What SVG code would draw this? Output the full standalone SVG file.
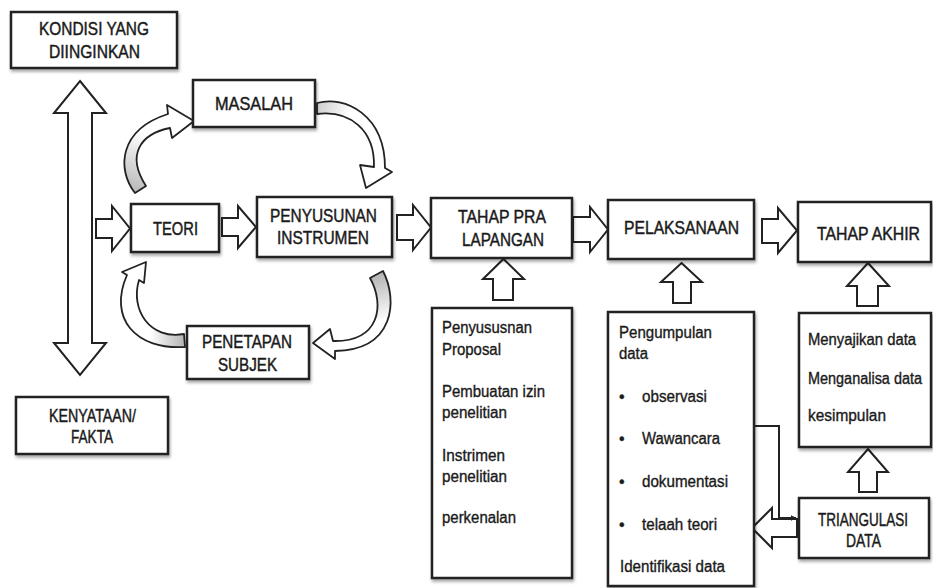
<svg xmlns="http://www.w3.org/2000/svg" width="933" height="588" viewBox="0 0 933 588">
<style>
.box{fill:#fff;stroke:#222;stroke-width:2.5;filter:url(#sh)}
.lbl{font-family:"Liberation Sans",Arial,sans-serif;font-size:18px;fill:#1a1a1a;stroke:#1a1a1a;stroke-width:0.45}
.txt{font-family:"Liberation Sans",Arial,sans-serif;font-size:16px;fill:#1a1a1a;stroke:#1a1a1a;stroke-width:0.35}
.blk{fill:#fff;stroke:#222;stroke-width:2;stroke-linejoin:miter}
.crv{stroke:#222;stroke-width:1.8;stroke-linejoin:round}
.ln{fill:none;stroke:#222;stroke-width:2}
</style>
<defs>
<filter id="sh" x="-10%" y="-10%" width="130%" height="140%">
<feDropShadow dx="1" dy="2.5" stdDeviation="1.8" flood-color="#000" flood-opacity="0.35"/>
</filter>
<linearGradient id="g1" gradientUnits="userSpaceOnUse" x1="140" y1="190" x2="160" y2="140"><stop offset="0" stop-color="#bdbdbd"/><stop offset="1" stop-color="#fff"/></linearGradient>
<linearGradient id="g2" gradientUnits="userSpaceOnUse" x1="317" y1="108" x2="350" y2="115"><stop offset="0" stop-color="#d0d0d0"/><stop offset="1" stop-color="#fff"/></linearGradient>
<linearGradient id="g3" gradientUnits="userSpaceOnUse" x1="376" y1="275" x2="388" y2="320"><stop offset="0" stop-color="#b5b5b5"/><stop offset="1" stop-color="#fff"/></linearGradient>
<linearGradient id="g4" gradientUnits="userSpaceOnUse" x1="184" y1="340" x2="150" y2="340"><stop offset="0" stop-color="#b5b5b5"/><stop offset="1" stop-color="#fff"/></linearGradient>
<marker id="ah" viewBox="0 0 10 10" refX="9" refY="5" markerWidth="6" markerHeight="6" orient="auto" markerUnits="userSpaceOnUse"><path d="M0,0 L10,5 L0,10 Z" fill="#222"/></marker>
</defs>
<rect width="933" height="588" fill="#fff"/>

<g id="connectors">
<polygon class="blk" points="80,81 106,113 92,113 92,343 106,343 80,375 54,343 68,343 68,113 54,113"/>
<polygon class="blk" points="96,219 112,219 112,206 130,228.5 112,251 112,238 96,238"/>
<polygon class="blk" points="222,218 238,218 238,206 256,227 238,248 238,236 222,236"/>
<polygon class="blk" points="397,215 413,215 413,205 431,227.5 413,250 413,240 397,240"/>
<polygon class="blk" points="573,217 590,217 590,207 608,229.5 590,252 590,242 573,242"/>
<polygon class="blk" points="762,219 778,219 778,208 797,230.5 778,253 778,243 762,243"/>
<polygon class="blk" points="503.5,259 524,279 513,279 513,300 493,300 493,279 483,279"/>
<polygon class="blk" points="681.5,263 702,282 691,282 691,303 673,303 673,282 661,282"/>
<polygon class="blk" points="868,263 889,286 878,286 878,306 857,306 857,286 847,286"/>
<polygon class="blk" points="868,449 888,472 877,472 877,492 859,492 859,472 848,472"/>
<polygon class="blk" points="752,528 772,508 772,519 797,519 797,537 772,537 772,548"/>
<path class="crv" fill="url(#g1)" d="M135,193 C117,170 118,130 168,114 L167,105 L194,121 L172,138 L170,128 C140,134 126,155 146,186 Z"/>
<path class="crv" fill="url(#g2)" d="M317,103 C345,95 385,115 385,168 L392,172 L366,188 L360,165 L374,167 C375,130 350,110 317,114 Z"/>
<path class="crv" fill="url(#g3)" d="M383,271 C398,300 395,350 335,351 L335,359 L313,343 L330,329 L333,341 C380,342 385,305 370,278 Z"/>
<path class="crv" fill="url(#g4)" d="M185,347 C135,350 108,318 127,275 L122,272 L146,262 L144,283 L139,280 C130,310 150,340 184,334 Z"/>
<path class="ln" d="M725,377 Q737,377 737,383 L737,491 Q737,497 725,497"/>
<path class="ln" d="M737,426 H779 V518 H796" marker-end="url(#ah)"/>
</g>

<g id="kondisi">
<rect class="box" x="11" y="12" width="166" height="56"/>
<text class="lbl" x="39" y="35" textLength="110" lengthAdjust="spacingAndGlyphs">KONDISI YANG</text>
<text class="lbl" x="49" y="58" textLength="91" lengthAdjust="spacingAndGlyphs">DIINGINKAN</text>
</g>
<g id="masalah">
<rect class="box" x="193" y="80" width="122" height="47"/>
<text class="lbl" x="215" y="110" textLength="78" lengthAdjust="spacingAndGlyphs">MASALAH</text>
</g>
<g id="teori">
<rect class="box" x="131" y="204" width="88" height="48"/>
<text class="lbl" x="153" y="235" textLength="45" lengthAdjust="spacingAndGlyphs">TEORI</text>
</g>
<g id="penyusunan">
<rect class="box" x="257" y="197" width="135" height="60"/>
<text class="lbl" x="270" y="222" textLength="107" lengthAdjust="spacingAndGlyphs">PENYUSUNAN</text>
<text class="lbl" x="277" y="244" textLength="92" lengthAdjust="spacingAndGlyphs">INSTRUMEN</text>
</g>
<g id="penetapan">
<rect class="box" x="187" y="326" width="122" height="53"/>
<text class="lbl" x="202" y="348" textLength="90" lengthAdjust="spacingAndGlyphs">PENETAPAN</text>
<text class="lbl" x="218" y="371" textLength="59" lengthAdjust="spacingAndGlyphs">SUBJEK</text>
</g>
<g id="kenyataan">
<rect class="box" x="16" y="397" width="152" height="57"/>
<text class="lbl" x="49" y="422" textLength="87" lengthAdjust="spacingAndGlyphs">KENYATAAN/</text>
<text class="lbl" x="71" y="443" textLength="42" lengthAdjust="spacingAndGlyphs">FAKTA</text>
</g>
<g id="tahap-pra">
<rect class="box" x="431" y="198" width="141" height="60"/>
<text class="lbl" x="458" y="223" textLength="88" lengthAdjust="spacingAndGlyphs">TAHAP PRA</text>
<text class="lbl" x="462" y="246" textLength="82" lengthAdjust="spacingAndGlyphs">LAPANGAN</text>
</g>
<g id="pelaksanaan">
<rect class="box" x="608" y="200" width="146" height="59"/>
<text class="lbl" x="624" y="234" textLength="115" lengthAdjust="spacingAndGlyphs">PELAKSANAAN</text>
</g>
<g id="tahap-akhir">
<rect class="box" x="798" y="202" width="133" height="60"/>
<text class="lbl" x="817" y="240" textLength="103" lengthAdjust="spacingAndGlyphs">TAHAP AKHIR</text>
</g>
<g id="pra-detail">
<rect class="box" x="432" y="308" width="140" height="270"/>
<text class="txt" x="442" y="333" textLength="90" lengthAdjust="spacingAndGlyphs">Penyususnan</text>
<text class="txt" x="442" y="355" textLength="59" lengthAdjust="spacingAndGlyphs">Proposal</text>
<text class="txt" x="442" y="397" textLength="103" lengthAdjust="spacingAndGlyphs">Pembuatan izin</text>
<text class="txt" x="442" y="418" textLength="65" lengthAdjust="spacingAndGlyphs">penelitian</text>
<text class="txt" x="442" y="461" textLength="63" lengthAdjust="spacingAndGlyphs">Instrimen</text>
<text class="txt" x="442" y="482" textLength="65" lengthAdjust="spacingAndGlyphs">penelitian</text>
<text class="txt" x="442" y="523" textLength="74" lengthAdjust="spacingAndGlyphs">perkenalan</text>
</g>
<g id="pelaksanaan-detail">
<rect class="box" x="608" y="312" width="146" height="274"/>
<text class="txt" x="619" y="338" textLength="93" lengthAdjust="spacingAndGlyphs">Pengumpulan</text>
<text class="txt" x="619" y="359" textLength="29" lengthAdjust="spacingAndGlyphs">data</text>
<text class="txt" x="619" y="402">•</text>
<text class="txt" x="642" y="402" textLength="65" lengthAdjust="spacingAndGlyphs">observasi</text>
<text class="txt" x="619" y="444">•</text>
<text class="txt" x="642" y="444" textLength="78" lengthAdjust="spacingAndGlyphs">Wawancara</text>
<text class="txt" x="619" y="487">•</text>
<text class="txt" x="642" y="487" textLength="86" lengthAdjust="spacingAndGlyphs">dokumentasi</text>
<text class="txt" x="619" y="530">•</text>
<text class="txt" x="642" y="530" textLength="75" lengthAdjust="spacingAndGlyphs">telaah teori</text>
<text class="txt" x="620" y="572" textLength="105" lengthAdjust="spacingAndGlyphs">Identifikasi data</text>
</g>
<g id="akhir-detail">
<rect class="box" x="799" y="313" width="132" height="134"/>
<text class="txt" x="808" y="345" textLength="108" lengthAdjust="spacingAndGlyphs">Menyajikan data</text>
<text class="txt" x="808" y="384" textLength="114" lengthAdjust="spacingAndGlyphs">Menganalisa data</text>
<text class="txt" x="808" y="421" textLength="78" lengthAdjust="spacingAndGlyphs">kesimpulan</text>
</g>
<g id="triangulasi">
<rect class="box" x="799" y="498" width="130" height="60"/>
<text class="lbl" x="818" y="526" font-size="17" textLength="90" lengthAdjust="spacingAndGlyphs">TRIANGULASI</text>
<text class="lbl" x="846" y="547" font-size="17" textLength="35" lengthAdjust="spacingAndGlyphs">DATA</text>
</g>
</svg>
